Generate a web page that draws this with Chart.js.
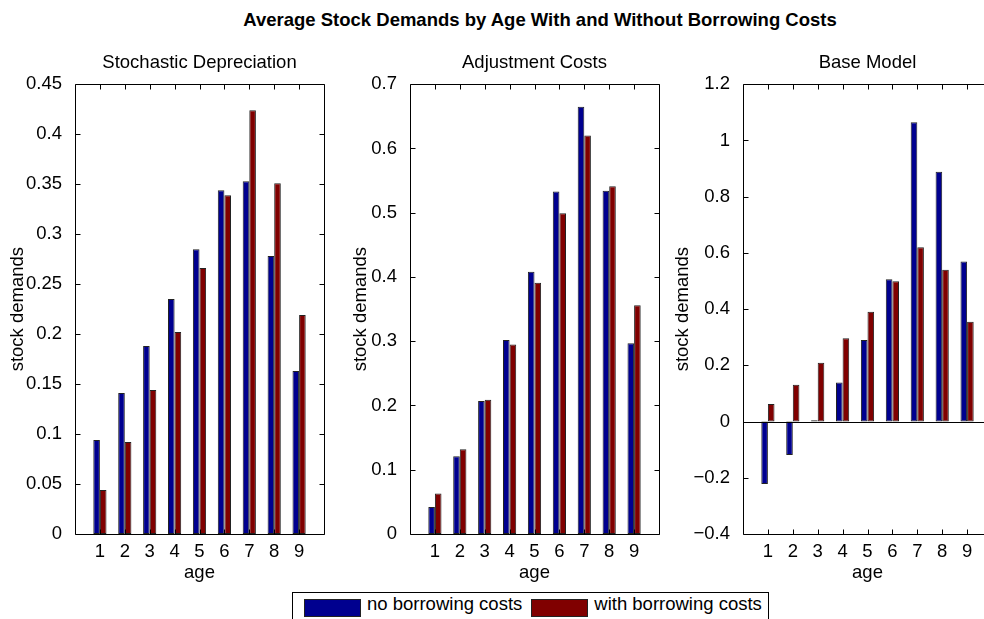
<!DOCTYPE html>
<html>
<head>
<meta charset="utf-8">
<title>Average Stock Demands by Age</title>
<script src="https://cdn.jsdelivr.net/npm/chart.js@4.4.0/dist/chart.umd.min.js"></script>
<style>
  html, body { margin: 0; padding: 0; background: #fff; overflow: hidden; }
  body { position: relative; width: 984px; height: 619px; font-family: "Liberation Sans", Arial, sans-serif; color: #000; }
  #suptitle { position: absolute; left: 0; width: 1080px; top: 11px; line-height: 18px; text-align: center; font-weight: bold; font-size: 18.5px; }
  .panel { position: absolute; top: 40px; }
  #legend { position: absolute; left: 292px; top: 592px; width: 477px; height: 40px; box-sizing: border-box; border: 1px solid #000; background: #fff; display: flex; align-items: flex-start; font-size: 18.5px; line-height: 18px; }
  #legend .sw { width: 57px; height: 18px; box-sizing: border-box; border: 1px solid #222; margin-top: 6px; }
  #legend .lbl { margin-top: 2px; white-space: nowrap; }
</style>
</head>
<body>
<div id="suptitle">Average Stock Demands by Age With and Without Borrowing Costs</div>
<canvas id="c0" class="panel" width="399" height="546" style="left:0px"></canvas>
<canvas id="c1" class="panel" width="399" height="546" style="left:335px"></canvas>
<canvas id="c2" class="panel" width="399" height="546" style="left:668px"></canvas>
<div id="legend"></div>
<script>
/* DATA */
const ages = [1, 2, 3, 4, 5, 6, 7, 8, 9];
const seriesNames = ['no borrowing costs', 'with borrowing costs'];
const seriesColors = ['rgb(0,0,143)', 'rgb(128,0,0)'];
const panelTitles = ['Stochastic Depreciation', 'Adjustment Costs', 'Base Model'];

// Stochastic Depreciation
const stochNoBorrow   = [0.094, 0.141, 0.188, 0.235, 0.285, 0.344, 0.353, 0.278, 0.163];
const stochWithBorrow = [0.044, 0.092, 0.144, 0.202, 0.266, 0.339, 0.424, 0.351, 0.219];
const stochTicks      = [0, 0.05, 0.1, 0.15, 0.2, 0.25, 0.3, 0.35, 0.4, 0.45];

// Adjustment Costs
const adjNoBorrow   = [0.042, 0.121, 0.207, 0.302, 0.408, 0.533, 0.665, 0.534, 0.297];
const adjWithBorrow = [0.063, 0.132, 0.209, 0.295, 0.391, 0.499, 0.620, 0.541, 0.356];
const adjTicks      = [0, 0.1, 0.2, 0.3, 0.4, 0.5, 0.6, 0.7];

// Base Model
const baseNoBorrow   = [-0.222, -0.119, 0.005, 0.139, 0.290, 0.506, 1.065, 0.889, 0.569];
const baseWithBorrow = [0.062, 0.131, 0.209, 0.296, 0.391, 0.499, 0.620, 0.540, 0.355];
const baseTicks      = [-0.4, -0.2, 0, 0.2, 0.4, 0.6, 0.8, 1, 1.2];

/* PANELS (layout only) */
const panels = [
  { canvas: 'c0', title: panelTitles[0], series: [stochNoBorrow, stochWithBorrow], ticks: stochTicks, yTitlePad: 7 },
  { canvas: 'c1', title: panelTitles[1], series: [adjNoBorrow, adjWithBorrow],     ticks: adjTicks,   yTitlePad: 15 },
  { canvas: 'c2', title: panelTitles[2], series: [baseNoBorrow, baseWithBorrow],   ticks: baseTicks,  yTitlePad: 4 }
];

Chart.defaults.font.family = '"Liberation Sans", Arial, sans-serif';
Chart.defaults.font.size = 18.5;
Chart.defaults.color = '#000';

/* MATLAB STYLE BOX, INNER TICKS AND ZERO BASELINE */
const boxTicks = {
  id: 'boxTicks',
  afterDatasetsDraw(chart) {
    const {ctx, chartArea: a, scales: {x, y}} = chart;
    const L = Math.round(a.left) + 0.5, R = Math.round(a.right) + 0.5;
    const T = Math.round(a.top) + 0.5, B = Math.round(a.bottom) + 0.5;
    ctx.save();
    ctx.strokeStyle = '#000';
    ctx.lineWidth = 1;
    ctx.beginPath();
    y.ticks.forEach(function(t) {
      const py = Math.round(y.getPixelForValue(t.value)) + 0.5;
      ctx.moveTo(L, py); ctx.lineTo(L + 5, py);
      ctx.moveTo(R, py); ctx.lineTo(R - 5, py);
    });
    x.ticks.forEach(function(t) {
      const px = Math.round(x.getPixelForValue(t.value)) + 0.5;
      ctx.moveTo(px, T); ctx.lineTo(px, T + 5);
      ctx.moveTo(px, B); ctx.lineTo(px, B - 5);
    });
    if (y.min < 0 && y.max > 0) {
      const zy = Math.round(y.getPixelForValue(0)) + 0.5;
      ctx.moveTo(L, zy); ctx.lineTo(R, zy);
    }
    ctx.rect(L, T, R - L, B - T);
    ctx.stroke();
    ctx.restore();
  }
};

function fmt(v) {
  return String(+v.toFixed(2)).replace('-', '\u2212');
}

panels.forEach(function(p) {
  const datasets = p.series.map(function(vals, s) {
    return {
      label: seriesNames[s],
      data: ages.map(function(a, i) { return {x: a, y: vals[i]}; }),
      backgroundColor: seriesColors[s],
      borderColor: '#222',
      borderWidth: 1,
      borderSkipped: false,
      categoryPercentage: 0.53,
      barPercentage: 1.0
    };
  });
  new Chart(document.getElementById(p.canvas), {
    type: 'bar',
    data: { datasets: datasets },
    plugins: [boxTicks],
    options: {
      responsive: false,
      animation: false,
      devicePixelRatio: 1,
      layout: { padding: 0 },
      plugins: {
        legend: { display: false },
        tooltip: { enabled: false },
        title: {
          display: true,
          text: p.title,
          font: { size: 18.5, weight: 'normal' },
          padding: { top: 12, bottom: 10 }
        }
      },
      scales: {
        x: {
          type: 'linear',
          min: 0,
          max: 10,
          offset: false,
          grid: { display: false },
          border: { display: false },
          afterBuildTicks: function(scale) { scale.ticks = ages.map(function(v) { return {value: v}; }); },
          afterFit: function(scale) { scale.height = 52; },
          ticks: { padding: -1, maxRotation: 0, autoSkip: false, callback: function(v) { return String(v); } },
          title: { display: true, text: 'age', padding: { top: 0, bottom: 2 } }
        },
        y: {
          min: p.ticks[0],
          max: p.ticks[p.ticks.length - 1],
          grid: { display: false },
          border: { display: false },
          afterBuildTicks: function(scale) { scale.ticks = p.ticks.map(function(v) { return {value: v}; }); },
          afterFit: function(scale) { scale.width = 75; },
          ticks: { padding: 5, autoSkip: false, callback: function(v) { return fmt(v); } },
          title: { display: true, text: 'stock demands', padding: { top: p.yTitlePad, bottom: 0 } }
        },
        // empty right-hand axis, only keeps the plot centred under its title
        yRight: {
          position: 'right',
          grid: { display: false },
          border: { display: false },
          ticks: { display: false },
          afterFit: function(scale) { scale.width = 75; }
        }
      }
    }
  });
});

/* HTML LEGEND BOX */
const legend = document.getElementById('legend');
const gaps = [[11, 6], [9, 6]];
seriesNames.forEach(function(name, s) {
  const sw = document.createElement('div');
  sw.className = 'sw';
  sw.style.background = seriesColors[s];
  sw.style.marginLeft = gaps[s][0] + 'px';
  const lbl = document.createElement('span');
  lbl.className = 'lbl';
  lbl.style.marginLeft = gaps[s][1] + 'px';
  lbl.textContent = name;
  legend.appendChild(sw);
  legend.appendChild(lbl);
});
</script>
</body>
</html>
